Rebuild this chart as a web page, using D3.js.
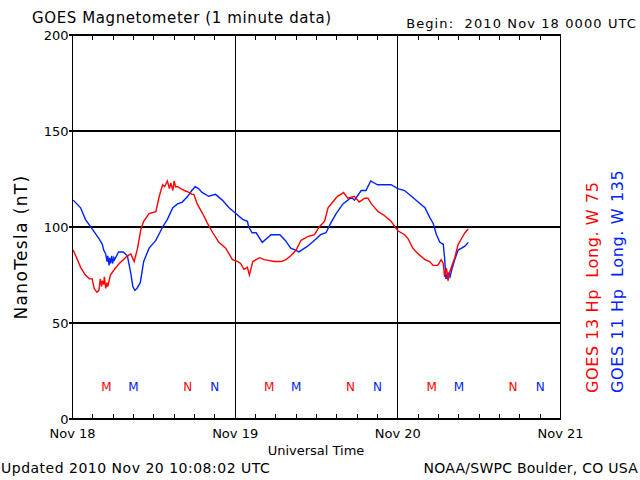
<!DOCTYPE html>
<html><head><meta charset="utf-8">
<script src="https://cdn.jsdelivr.net/npm/d3@7"></script>
<style>body{margin:0;background:#fff}svg{display:block}text{font-family:"DejaVu Sans",sans-serif}</style>
</head><body><svg id="c" width="640" height="480"></svg>
<script>
// hours since 2010 Nov 18 00:00 UT
const redHours = [0.1,0.6,1.2,1.9,2.5,2.9,3.2,3.6,3.9,4.1,4.3,4.4,4.6,4.7,4.9,5.1,5.2,5.4,5.6,6.2,6.9,7.5,8.1,8.6,9.1,9.6,10.1,10.5,11.3,12.3,12.8,13.3,13.6,14.0,14.3,14.5,14.8,15.0,15.2,15.5,16.0,16.5,17.2,17.6,17.9,18.4,19.2,19.9,20.7,21.6,22.6,23.6,24.4,24.8,25.3,25.8,26.1,26.6,27.6,28.3,29.8,30.8,31.5,32.2,33.0,33.7,34.7,35.7,36.4,37.2,37.7,38.4,39.1,39.6,40.0,40.6,41.6,42.3,43.1,43.6,44.1,45.1,46.0,47.0,48.0,49.0,49.5,50.2,51.0,52.0,52.7,53.2,53.9,54.4,54.7,54.9,55.0,55.2,55.4,55.6,55.7,55.9,56.4,56.9,57.4,57.9,58.4];
const redValues = [88,84,79,75,73,73,68,66,67,73,69,72,70,74,68,71,69,72,75,78,81,83,85,86,82,89,99,103,107,108,116,122,121,124,120,123,119,124,121,121,120,119,118,117,117,112,107,102,97,92,89,83,82,81,78,79,75,82,84,83,82,82,83,85,88,93,95,96,100,103,110,113,116,117,118,115,116,113,115,115,112,108,106,103,98,96,94,89,86,83,82,80,80,83,81,74,77,78,72,76,77,79,84,91,94,97,99];
const blueHours = [0.1,1.2,1.9,2.9,3.9,4.4,4.6,4.9,5.1,5.2,5.4,5.5,5.6,5.8,5.9,6.1,6.2,6.8,7.5,8.1,8.6,8.9,9.2,9.5,10.0,10.5,11.3,12.3,13.3,14.0,14.8,15.5,16.2,17.0,17.6,18.1,18.6,19.1,20.1,21.1,22.1,23.1,24.1,25.1,25.8,26.0,26.5,27.1,28.0,29.3,30.6,31.4,32.2,32.9,33.4,34.7,36.0,36.6,37.4,38.1,38.9,39.9,41.0,41.3,41.6,42.6,43.3,44.0,45.0,46.0,47.0,48.0,49.0,50.0,51.0,52.0,52.7,53.2,53.7,54.2,54.7,54.9,55.1,55.4,55.7,55.9,56.4,56.9,57.4,57.9,58.4];
const blueValues = [114,110,104,99,94,91,88,86,82,85,80,84,81,85,81,84,83,87,87,85,76,69,67,68,71,82,89,93,100,104,110,112,113,116,119,121,120,118,116,117,114,110,107,104,103,100,97,97,92,96,96,93,89,88,87,90,94,96,97,102,107,112,115,115,114,119,119,124,122,122,122,120,119,116,113,110,105,102,96,92,91,84,73,76,74,77,83,88,89,90,92];
const yTicks = [0,50,100,150,200];
const dayLabels = ["Nov 18","Nov 19","Nov 20","Nov 21"];
const localTimeMarks = [
  {label:"M",hour:5,sat:"red"},{label:"M",hour:9,sat:"blue"},{label:"N",hour:17,sat:"red"},{label:"N",hour:21,sat:"blue"},
  {label:"M",hour:29,sat:"red"},{label:"M",hour:33,sat:"blue"},{label:"N",hour:41,sat:"red"},{label:"N",hour:45,sat:"blue"},
  {label:"M",hour:53,sat:"red"},{label:"M",hour:57,sat:"blue"},{label:"N",hour:65,sat:"red"},{label:"N",hour:69,sat:"blue"}
];
const RED="#ff0000", BLUE="#0022ff";

const svg = d3.select("#c");
const L=72.5, R=560.5, T=35, B=419;
const x = d3.scaleLinear().domain([0,72]).range([L,R]);
const y = d3.scaleLinear().domain([0,200]).range([B,T]);

const g = svg.append("g").attr("stroke","#000").attr("stroke-width",1.2).attr("shape-rendering","crispEdges");
[50,100,150].forEach(v=>g.append("line").attr("x1",L).attr("x2",R).attr("y1",y(v)).attr("y2",y(v)));
[24,48].forEach(h=>g.append("line").attr("x1",x(h)).attr("x2",x(h)).attr("y1",T).attr("y2",B));
g.append("rect").attr("x",L).attr("y",T).attr("width",R-L).attr("height",B-T).attr("fill","none");
d3.range(3,72,3).filter(h=>h%24).forEach(h=>{
  g.append("line").attr("x1",x(h)).attr("x2",x(h)).attr("y1",B).attr("y2",B-5);
  g.append("line").attr("x1",x(h)).attr("x2",x(h)).attr("y1",T).attr("y2",T+5);
});
yTicks.forEach(v=>{
  g.append("line").attr("x1",L-4).attr("x2",L).attr("y1",y(v)).attr("y2",y(v));
  svg.append("text").attr("x",L-4).attr("y",y(v)+5).attr("text-anchor","end").attr("font-size",13).text(v);
});
dayLabels.forEach((d,i)=>svg.append("text").attr("x",x(i*24)).attr("y",438).attr("text-anchor","middle").attr("font-size",13).text(d));

const line = d3.line().x(d=>x(d[0])).y(d=>y(d[1]));
svg.append("path").datum(blueHours.map((h,i)=>[h,blueValues[i]])).attr("d",line).attr("fill","none").attr("stroke",BLUE).attr("stroke-width",1.4);
svg.append("path").datum(redHours.map((h,i)=>[h,redValues[i]])).attr("d",line).attr("fill","none").attr("stroke",RED).attr("stroke-width",1.4);

localTimeMarks.forEach(m=>svg.append("text").attr("x",x(m.hour)).attr("y",391).attr("text-anchor","middle").attr("font-size",12)
  .attr("fill",m.sat==="red"?RED:BLUE).text(m.label));

function txt(t,attrs){const e=svg.append("text").attr("xml:space","preserve");Object.entries(attrs).forEach(([k,v])=>e.attr(k,v));e.text(t);return e;}
txt("GOES Magnetometer (1 minute data)",{x:32,y:23,"font-size":15,"letter-spacing":0.6});
txt("Begin:  2010 Nov 18 0000 UTC",{x:637,y:28,"text-anchor":"end","font-size":13,"letter-spacing":1.1});
txt("NanoTesla (nT)",{transform:"translate(27,247) rotate(-90)","text-anchor":"middle","font-size":17,"letter-spacing":1.35});
txt("Universal Time",{x:316,y:455,"text-anchor":"middle","font-size":13});
txt("Updated 2010 Nov 20 10:08:02 UTC",{x:1,y:473,"font-size":14,"letter-spacing":0.5});
txt("NOAA/SWPC Boulder, CO USA",{x:638,y:473,"text-anchor":"end","font-size":14,"letter-spacing":0.25});
txt("GOES 13 Hp  Long. W 75",{transform:"translate(598,393) rotate(-90)","font-size":16,"fill":RED,"letter-spacing":0.6});
txt("GOES 11 Hp  Long. W 135",{transform:"translate(623,393) rotate(-90)","font-size":16,"fill":BLUE,"letter-spacing":0.65});
</script></body></html>
